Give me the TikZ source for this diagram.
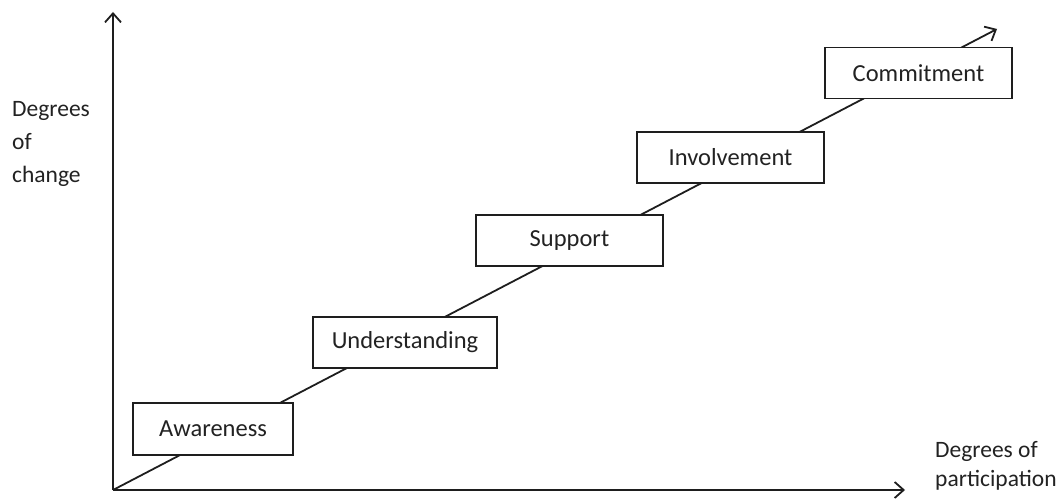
\documentclass[tikz,border=0pt]{standalone}
\usepackage{fontspec}
\setmainfont{Carlito}
\usetikzlibrary{arrows.meta}
\definecolor{ink}{HTML}{1E1E1E}
\definecolor{txt}{HTML}{222222}
\begin{document}
\begin{tikzpicture}[x=1pt,y=-1pt,
  axis/.style={draw=ink,line width=1.8pt,-{Straight Barb[length=9pt,width=16pt,line width=1.8pt]}},
  stage/.style={draw=ink,line width=1.8pt,fill=white,rectangle,inner sep=0pt,
    font=\fontsize{24.5}{28}\selectfont,text=txt},
  lbl/.style={font=\fontsize{23.5}{33}\selectfont,text=txt,align=left,inner sep=0pt}]
\useasboundingbox (0,0) rectangle (1063,500);
\coordinate (O) at (113,490);
\coordinate (ytip) at (113,12);
\coordinate (xtip) at (905,490);
\coordinate (dtip) at (997,29);
\draw[axis] (O) -- (ytip);
\draw[axis] (O) -- (xtip);
\draw[axis] (O) -- (dtip);
\node[stage,minimum width=160pt,minimum height=52pt] (aw) at (213,429) {Awareness};
\node[stage,minimum width=184pt,minimum height=51pt] (un) at (405,342.5) {Understanding};
\node[stage,minimum width=187pt,minimum height=51pt] (su) at (569.5,240.5) {Support};
\node[stage,minimum width=187pt,minimum height=51pt] (in) at (730.5,157.5) {Involvement};
\node[stage,minimum width=187pt,minimum height=51pt] (co) at (918.5,73) {Commitment};
\node[lbl,anchor=north west] (yl) at (12,101) {Degrees\\of\\change};
\node[lbl,anchor=north west,font=\fontsize{23.5}{29}\selectfont] (xl) at (935,441) {Degrees of\\participation};
\end{tikzpicture}
\end{document}
